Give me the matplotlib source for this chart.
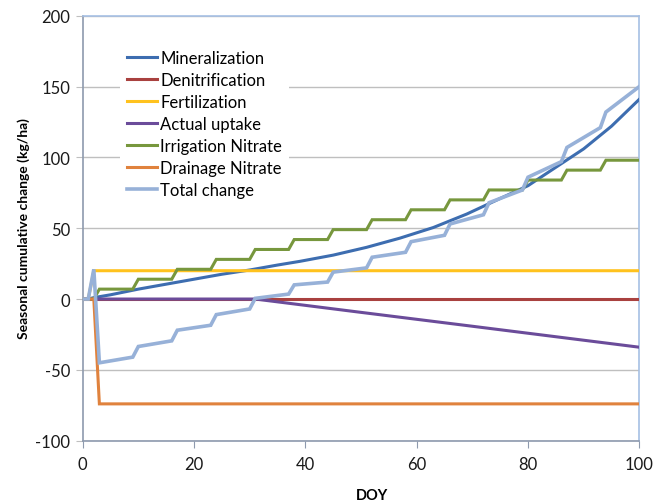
import matplotlib
matplotlib.use("Agg")
import matplotlib.pyplot as plt

plt.rcParams['font.family'] = ['Lato', 'DejaVu Sans']
plt.rcParams['axes.unicode_minus'] = False

# ---- data ----
min_doy = [0, 1, 2, 5, 10, 15, 20, 25, 30, 35, 39, 45, 51, 57, 63, 69, 75, 80, 85, 90, 95, 100]
min_val = [0, 0, 1, 3, 7, 10.5, 14, 17.5, 20.5, 24, 26.6, 31, 36.5, 43, 50.5, 60, 71, 80, 93, 106, 122, 141]

denit_doy = [0, 100]
denit_val = [0, 0]

fert_doy = [0, 1, 2, 100]
fert_val = [0, 0, 20, 20]

upt_doy = [0, 31, 50, 70, 100]
upt_val = [0, 0, -9.4, -19.2, -34]

irr_doy = [0, 2, 3, 9, 10, 16, 17, 23, 24, 30, 31, 37, 38, 44, 45, 51, 52, 58, 59,
           65, 66, 72, 73, 79, 80, 86, 87, 93, 94, 100]
irr_val = [0, 0, 7, 7, 14, 14, 21, 21, 28, 28, 35, 35, 42, 42, 49, 49, 56, 56, 63,
           63, 70, 70, 77, 77, 84, 84, 91, 91, 98, 98]

drain_doy = [0, 2, 3, 100]
drain_val = [0, 0, -74, -74]

tot_doy = [0, 1, 2, 3, 9, 10, 16, 17, 23, 24, 30, 31, 37, 38, 44, 45, 51, 52, 58, 59,
           65, 66, 72, 73, 79, 80, 86, 87, 93, 94, 100]
tot_val = [0, 0, 21, -45, -41, -33.5, -29.5, -22, -18.5, -11, -7, 0.5, 3.5, 10, 12, 19,
           22, 29.5, 33, 40.5, 45, 53, 59.5, 68, 77, 86, 97, 107, 121, 132, 150]

series = [
    ("Mineralization", min_doy, min_val, "#3D6DB0"),
    ("Denitrification", denit_doy, denit_val, "#A9413F"),
    ("Fertilization", fert_doy, fert_val, "#FFC21E"),
    ("Actual uptake", upt_doy, upt_val, "#6B4C9A"),
    ("Irrigation Nitrate", irr_doy, irr_val, "#77973D"),
    ("Drainage Nitrate", drain_doy, drain_val, "#E0823D"),
    ("Total change", tot_doy, tot_val, "#97B1D8"),
]

x_ticks = [0, 20, 40, 60, 80, 100]
y_ticks = [-100, -50, 0, 50, 100, 150, 200]

W, H = 670, 502
fig = plt.figure(figsize=(6.7, 5.02), dpi=100)
ax = fig.add_axes([0.1234, 0.1201, 0.8308, 0.8466])

for name, xs, ys, c in series:
    lw = 2.6 if name == "Total change" else 2.2
    ax.plot(xs, ys, color=c, lw=lw, label=name, solid_joinstyle='miter', zorder=3)

ax.set_xlim(0, 100)
ax.set_ylim(-100, 200)
ax.set_xticks(x_ticks)
ax.set_yticks(y_ticks)
ax.yaxis.grid(True, color="#BFBFBF", lw=1.0, zorder=0)
ax.set_axisbelow(True)

for s in ["left", "bottom"]:
    ax.spines[s].set_color("#8E9AAE")
    ax.spines[s].set_linewidth(1.2)
for s in ["top", "right"]:
    ax.spines[s].set_color("#A6C0E4")
    ax.spines[s].set_linewidth(1.2)

ax.tick_params(axis='x', direction='out', length=5, color="#8E9AAE", labelsize=12,
               labelcolor="#1A1A1A", pad=6)
ax.tick_params(axis='y', direction='out', length=5, color="#BFBFBF", labelsize=12,
               labelcolor="#1A1A1A", pad=4)

fig.text(372 / W, 1 - 489 / H, "DOY", fontsize=10.5, fontweight='bold',
         ha='center', va='top')
fig.text(23.5 / W, 1 - 228.5 / H, "Seasonal cumulative change (kg/ha)", fontsize=10,
         fontweight='bold', rotation=90, ha='center', va='center')

leg = ax.legend(loc='upper left', bbox_to_anchor=(0.0526, 0.955), fontsize=12,
                frameon=True, facecolor='white', edgecolor='none', framealpha=1,
                handlelength=1.8, handletextpad=0.2, labelspacing=0.36, borderpad=0.4,
                fancybox=False)
leg.set_zorder(2)

fig.savefig("out.png", dpi=100)
